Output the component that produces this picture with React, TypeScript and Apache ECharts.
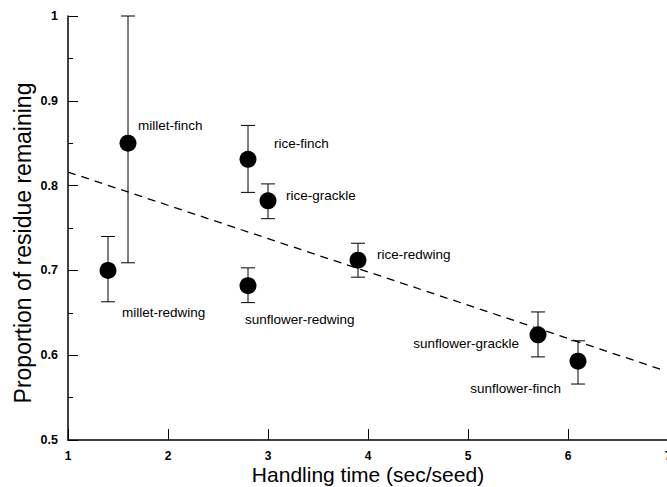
import React, { useEffect, useRef } from "react";
import * as echarts from "echarts";

const names = [
  "millet-finch",
  "millet-redwing",
  "rice-finch",
  "rice-grackle",
  "sunflower-redwing",
  "rice-redwing",
  "sunflower-grackle",
  "sunflower-finch",
];
const handling = [1.6, 1.4, 2.8, 3.0, 2.8, 3.9, 5.7, 6.1];
const proportion = [0.85, 0.7, 0.831, 0.782, 0.682, 0.712, 0.624, 0.593];
const errLow = [0.709, 0.663, 0.792, 0.761, 0.662, 0.692, 0.598, 0.566];
const errHigh = [1.0, 0.74, 0.871, 0.802, 0.703, 0.732, 0.651, 0.617];
const fitLine = [
  [1, 0.816],
  [6.95, 0.5825],
];
const xTitle = "Handling time (sec/seed)";
const yTitle = "Proportion of residue remaining";

// label placement (style only)
const labelStyle: Record<string, { dx: number; dy: number; align: string }> = {
  "millet-finch": { dx: 10, dy: -18, align: "left" },
  "millet-redwing": { dx: 14, dy: 42, align: "left" },
  "rice-finch": { dx: 26, dy: -16, align: "left" },
  "rice-grackle": { dx: 18, dy: -5, align: "left" },
  "sunflower-redwing": { dx: -3, dy: 34, align: "left" },
  "rice-redwing": { dx: 19, dy: -6, align: "left" },
  "sunflower-grackle": { dx: -19, dy: 9, align: "right" },
  "sunflower-finch": { dx: -17, dy: 27, align: "right" },
};

const FONT = "'Liberation Sans', Arial, Helvetica, sans-serif";

export default function App() {
  const ref = useRef<HTMLDivElement>(null);
  useEffect(() => {
    if (!ref.current) return;
    const chart = echarts.init(ref.current, undefined, { renderer: "svg" });
    const scatterData = names.map((n, i) => {
      const s = labelStyle[n];
      return {
        name: n,
        value: [handling[i], proportion[i]],
        label: {
          show: true,
          formatter: n,
          position: "inside",
          align: s.align,
          verticalAlign: "middle",
          offset: [s.dx, s.dy],
          color: "#000",
          fontSize: 13.5,
          fontFamily: FONT,
        },
      };
    });
    const errData = names.map((n, i) => [handling[i], errLow[i], errHigh[i]]);
    chart.setOption({
      animation: false,
      backgroundColor: "#fff",
      grid: { left: 68, top: 16, width: 600, height: 424, outerBoundsMode: "none", containLabel: false },
      graphic: [
        {
          type: "text",
          x: 23,
          y: 243,
          rotation: Math.PI / 2,
          style: {
            text: yTitle,
            fontSize: 23,
            fontFamily: FONT,
            fill: "#000",
            align: "center",
            verticalAlign: "middle",
          },
        },
        {
          type: "text",
          x: 368,
          y: 474,
          style: {
            text: xTitle,
            fontSize: 21,
            fontFamily: FONT,
            fill: "#000",
            align: "center",
            verticalAlign: "middle",
          },
        },
      ],
      xAxis: {
        type: "value",
        min: 1,
        max: 7,
        interval: 1,
        axisLine: { show: true, onZero: false, lineStyle: { color: "#000", width: 1.5 } },
        axisTick: { show: true, inside: true, length: 11, lineStyle: { color: "#000", width: 1 } },
        axisLabel: { color: "#000", fontSize: 12, fontWeight: "bold", fontFamily: FONT, margin: 10 },
        splitLine: { show: false },
      },
      yAxis: {
        type: "value",
        min: 0.5,
        max: 1,
        interval: 0.1,
        axisLine: { show: true, onZero: false, lineStyle: { color: "#000", width: 1.5 } },
        axisTick: { show: true, inside: true, length: 10, lineStyle: { color: "#000", width: 1 } },
        minorTick: { show: true, splitNumber: 2, length: 5, lineStyle: { color: "#000", width: 1 } },
        axisLabel: { color: "#000", fontSize: 12.5, fontWeight: "bold", fontFamily: FONT, margin: 10 },
        splitLine: { show: false },
      },
      series: [
        {
          type: "line",
          data: fitLine,
          symbol: "none",
          lineStyle: { color: "#000", width: 1.3, type: [8, 6] },
          z: 1,
        },
        {
          type: "custom",
          data: errData,
          z: 2,
          renderItem: (params: any, api: any) => {
            const x = api.value(0);
            const lo = api.coord([x, api.value(1)]);
            const hi = api.coord([x, api.value(2)]);
            const hw = 7;
            const st = { stroke: "#000", lineWidth: 1 };
            return {
              type: "group",
              children: [
                { type: "line", shape: { x1: lo[0], y1: lo[1], x2: hi[0], y2: hi[1] }, style: st },
                { type: "line", shape: { x1: lo[0] - hw, y1: lo[1], x2: lo[0] + hw, y2: lo[1] }, style: st },
                { type: "line", shape: { x1: hi[0] - hw, y1: hi[1], x2: hi[0] + hw, y2: hi[1] }, style: st },
              ],
            };
          },
        },
        {
          type: "scatter",
          data: scatterData,
          symbol: "circle",
          symbolSize: 17,
          itemStyle: { color: "#000", opacity: 1 },
          z: 3,
        },
      ],
    });
    return () => chart.dispose();
  }, []);
  return (
    <div
      ref={ref}
      style={{ position: "fixed", left: 0, top: 0, width: 667, height: 487, background: "#fff" }}
    />
  );
}
